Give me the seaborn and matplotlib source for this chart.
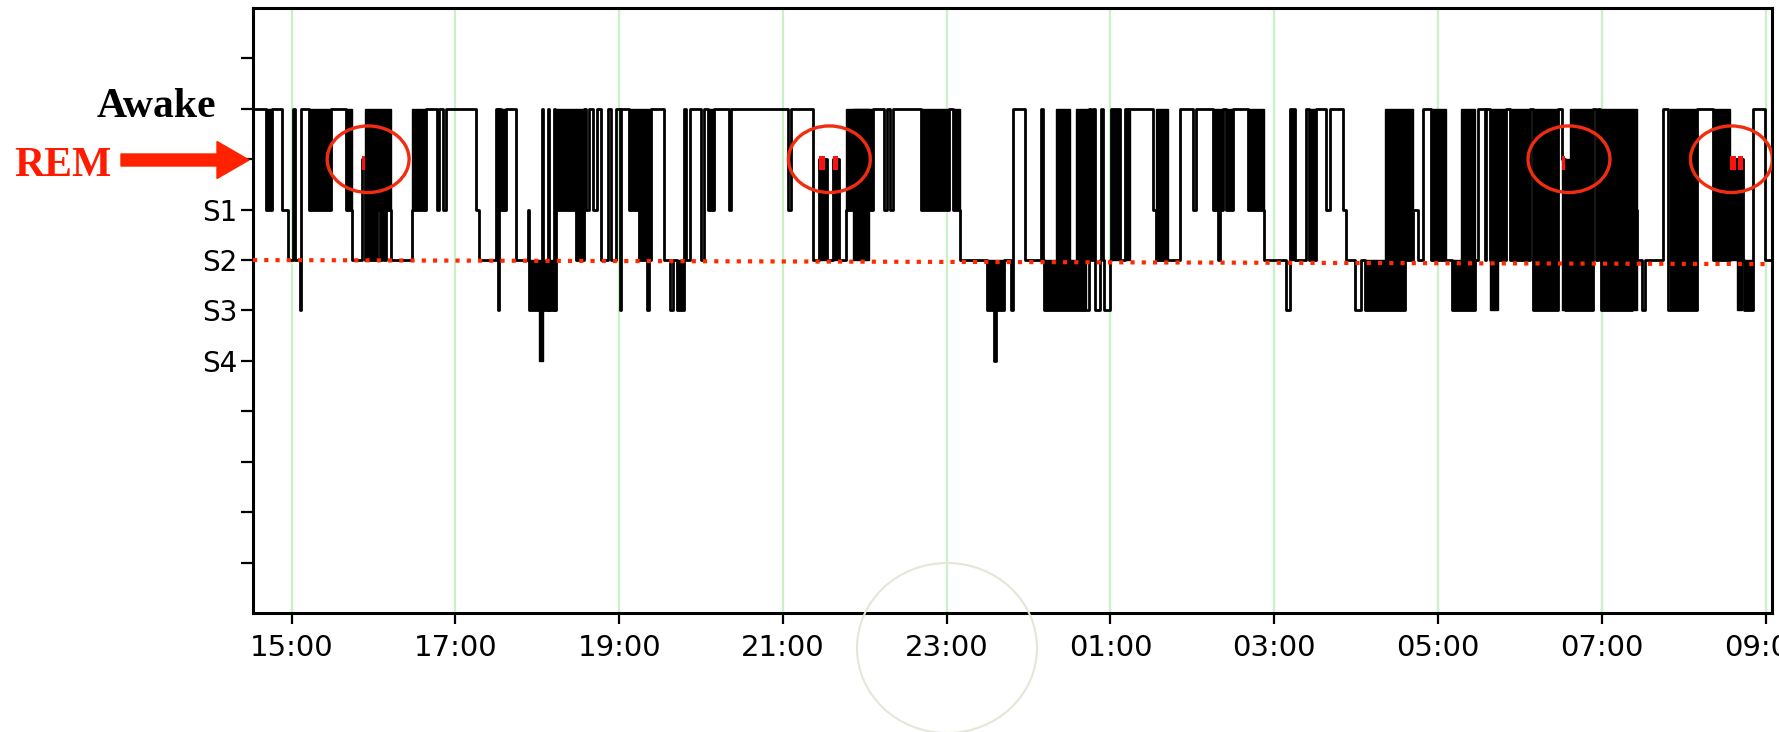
import numpy as np
import matplotlib.pyplot as plt
import seaborn as sns
from matplotlib.patches import Ellipse, FancyArrow

# ---- hypnogram data (minutes after 15:00) ----
# stage codes: 0 Awake, 1 REM, 2 S1, 3 S2, 4 S3, 5 S4
stage_t = [-28.4, -19.1, -14.7, -6.9, -2.5, 1.2, 2.4, 6.1, 7.1, 12.7, 28.6, 39.6, 44.5,
           51.8, 53.8, 62.8, 64.5, 65.8, 67.7, 69.0, 72.6, 88.5, 98.2, 106.8, 108.2,
           111.2, 112.7, 134.9, 137.3, 149.6, 150.8, 151.8, 153.2, 156.9, 164.2, 172.8,
           174.0, 183.2, 184.2, 187.7, 188.6, 192.0, 192.9, 194.0, 208.2, 214.3, 215.5,
           217.5, 221.0, 224.0, 226.5, 232.1, 233.8, 237.5, 240.5, 241.5, 247.3, 254.6,
           260.7, 261.7, 263.2, 273.0, 277.3, 279.2, 282.2, 287.6, 288.8, 292.0, 299.8,
           302.3, 304.7, 309.6, 320.6, 321.8, 363.4, 366.0, 381.7, 386.6, 392.4, 396.4,
           401.2, 406.2, 425.8, 434.3, 436.0, 438.5, 440.4, 461.2, 482.0, 484.4, 489.5,
           509.4, 514.5, 516.0, 521.6, 527.2, 528.5, 537.0, 549.2, 550.9, 551.6, 584.6,
           585.5, 587.1, 588.3, 592.0, 593.2, 594.4, 595.6, 599.3, 600.5, 606.6, 610.3,
           631.0, 633.5, 650.7, 660.5, 662.9, 675.1, 678.8, 680.3, 682.5, 684.9, 689.8,
           700.8, 712.5, 728.9, 731.5, 735.0, 743.6, 745.5, 750.9, 758.2, 760.7, 770.5,
           772.9, 779.0, 783.9, 786.3, 815.7, 821.8, 825.4, 829.1, 835.2, 849.9, 867.0,
           869.0, 874.3, 875.5, 878.0, 890.0, 892.5, 907.3, 909.7, 928.1, 930.5, 933.0,
           953.7, 955.5, 957.0, 958.5, 959.8, 981.8, 985.5, 989.2, 991.6, 1005.1, 1008.7,
           1029.5, 1041.7, 1054.0, 1063.7, 1064.5, 1071.0, 1079.6, 1085.0]
stage_v = [0, 2, 0, 2, 3, 0, 3, 4, 0, 2, 0, 2, 3,
           1, 3, 2, 3, 2, 3, 2, 3, 2, 0, 2, 0,
           2, 0, 2, 3, 0, 4, 0, 2, 0, 3, 2,
           4, 0, 4, 0, 4, 0, 4, 2, 3, 0, 2,
           0, 2, 0, 3, 0, 3, 0, 4, 0, 2, 3,
           4, 3, 0, 3, 4, 3, 4, 0, 3, 0, 3,
           0, 2, 0, 2, 0, 2, 0, 3, 1, 3, 1,
           3, 2, 0, 2, 0, 2, 0, 2, 0, 2, 3,
           4, 5, 4, 3, 4, 0, 3, 0, 3, 4, 0,
           3, 0, 4, 3, 0, 3, 4, 3, 0, 3, 0,
           2, 3, 0, 2, 0, 2, 3, 2, 0, 2, 0,
           2, 3, 4, 0, 3, 0, 3, 0, 2, 0, 2,
           3, 4, 3, 4, 3, 2, 3, 0, 3, 4, 3,
           0, 3, 0, 3, 0, 3, 0, 4, 0, 1, 4,
           0, 3, 0, 3, 4, 2, 3, 4, 3, 0, 4,
           0, 3, 1, 3, 4, 0, 3, 3]

# dense stretches of rapid stage switching, drawn as solid black blocks
block_t0 = [-19.1, 12.7, 39.6, 53.8, 62.8, 88.5, 153.2, 174.0, 181.0, 194.0, 208.2,
            247.3, 254.6, 282.2, 304.7, 386.6, 396.4, 406.2, 411.0, 461.2, 484.4,
            509.4, 551.6, 560.2, 574.9, 600.5, 610.3, 633.5, 675.1, 684.9, 700.8,
            731.5, 745.5, 786.3, 801.0, 835.2, 849.9, 857.2, 878.0, 878.0, 892.5,
            909.7, 930.5, 936.6, 959.8, 1010.0, 1041.7, 1054.0, 1058.8, 1064.5]
block_t1 = [-14.7, 28.6, 44.5, 62.8, 72.6, 98.2, 156.9, 193.5, 184.0, 208.2, 214.3,
            254.6, 263.2, 287.6, 309.6, 392.4, 401.2, 425.8, 423.3, 482.0, 489.5,
            521.6, 582.2, 570.0, 584.6, 606.6, 614.0, 642.1, 682.5, 689.8, 712.5,
            735.0, 750.9, 815.7, 821.8, 846.2, 857.2, 867.0, 890.0, 884.0, 907.3,
            928.1, 936.6, 953.7, 985.5, 1029.5, 1054.0, 1063.7, 1062.5, 1071.0]
block_top = [0, 0, 0, 0, 0, 0, 0, 3, 4, 0, 0,
             0, 0, 3, 0, 1, 1, 0, 0, 0, 0,
             3, 3, 0, 0, 0, 0, 0, 0, 0, 0,
             0, 0, 3, 0, 0, 3, 0, 0, 3, 0,
             0, 1, 0, 0, 0, 0, 1, 3, 3]
block_bot = [2, 2, 2, 3, 2, 2, 2, 4, 5, 2, 3,
             2, 3, 4, 2, 3, 3, 2, 3, 2, 2,
             4, 4, 3, 3, 3, 3, 3, 2, 2, 2,
             3, 3, 4, 3, 3, 4, 4, 3, 4, 3,
             4, 4, 4, 4, 4, 3, 3, 4, 4]

# REM epochs (red marks)
rem_t0 = [51.8, 386.6, 396.4, 930.5, 1054.0, 1059.5]
rem_t1 = [53.8, 390.5, 400.3, 933.0, 1058.5, 1063.7]

# circled REM episodes
circle_t = [56.0, 394.0, 936.0, 1055.0]

hour_ticks = [0, 120, 240, 360, 480, 600, 720, 840, 960, 1080]
hour_labels = ["15:00", "17:00", "19:00", "21:00", "23:00",
               "01:00", "03:00", "05:00", "07:00", "09:00"]
stage_ticks = [-1, 0, 1, 2, 3, 4, 5, 6, 7, 8, 9]
stage_labels = ["", "", "", "S1", "S2", "S3", "S4", "", "", "", ""]

s2_line_y = [3.0, 3.08]   # red dotted S2 reference, left / right end

# ---- plot ----
sns.set_style("ticks")
plt.rcParams["font.family"] = ["DejaVu Sans"]

fig = plt.figure(figsize=(17.79, 7.32), dpi=100)
ax = fig.add_axes([0.1422, 0.1626, 0.8539, 0.8265])

x_min, x_max = -28.4, 1084.8

for t in hour_ticks:
    ax.axvline(t, color="#c6f2c6", lw=1.6, zorder=0)

ax.bar(x=block_t0, height=np.subtract(block_bot, block_top),
       width=np.subtract(block_t1, block_t0), bottom=block_top, align="edge",
       color="black", edgecolor="black", linewidth=1.0, zorder=2)

sns.lineplot(x=stage_t, y=stage_v, drawstyle="steps-post", color="black",
             lw=2.0, estimator=None, sort=False, ax=ax, zorder=3)

ax.bar(x=rem_t0, height=0.28, width=np.subtract(rem_t1, rem_t0), bottom=0.93,
       align="edge", color="#ff1010", linewidth=0, zorder=4)

ax.plot([x_min, x_max], s2_line_y, color="#ff2a00", lw=3.0,
        linestyle=(0, (1, 1.7)), dash_capstyle="butt", zorder=5, clip_on=False)

for t in circle_t:
    ax.add_patch(Ellipse((t, 1.0), width=60, height=1.32, fill=False,
                         edgecolor="#f22d0f", lw=2.4, zorder=6))

ax.set_xlim(x_min, x_max)
ax.set_ylim(10.0, -2.0)
ax.set_xticks(hour_ticks)
ax.set_xticklabels(hour_labels)
ax.set_yticks(stage_ticks)
ax.set_yticklabels(stage_labels)
ax.set_xlabel("")
ax.set_ylabel("")
ax.tick_params(axis="x", length=8, width=1.6, pad=7, labelsize=21, colors="black")
ax.tick_params(axis="y", length=9, width=1.6, pad=2, labelsize=20, colors="black")
for sp in ax.spines.values():
    sp.set_visible(True)
    sp.set_linewidth(2.2)
    sp.set_color("black")

# labels on the left
fig.text(216 / 1779, 1 - 117 / 732, "Awake", ha="right", va="baseline",
         fontsize=30, fontweight="bold", family="Liberation Serif", color="black")
fig.text(14 / 1779, 1 - 176 / 732, "REM", ha="left", va="baseline",
         fontsize=30, fontweight="bold", family="Liberation Serif", color="#ff1a00")
fig.add_artist(FancyArrow(1.21, 5.72, 1.28, 0, width=0.12, head_width=0.37,
                          head_length=0.32, length_includes_head=True,
                          color="#ff2200", transform=fig.dpi_scale_trans))

# faint circle around the 23:00 label
fig.add_artist(Ellipse((9.47, 0.84), width=1.80, height=1.70, fill=False,
                       edgecolor="#e6e6d8", lw=1.5, transform=fig.dpi_scale_trans))

fig.savefig("out.png", dpi=100)
